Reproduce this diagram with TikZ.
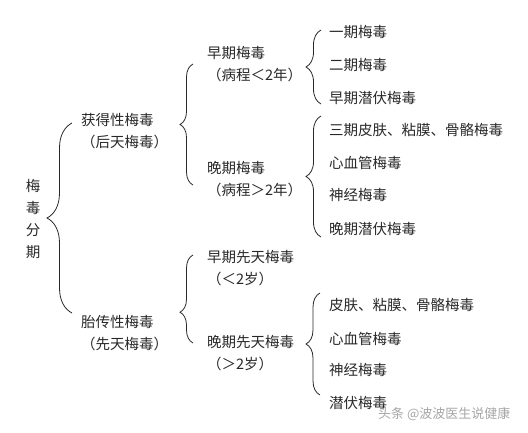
\documentclass[tikz,border=0pt]{standalone}
\usepackage{fontspec}
\setmainfont{Noto Sans CJK SC}
\usepackage{tikz}
\usetikzlibrary{decorations.pathreplacing, calc}
\definecolor{inkgray}{RGB}{40,40,40}
\tikzset{
  root/.style={
    inner sep=0pt, align=center, text=inkgray,
    font=\fontsize{14.5}{22}\selectfont
  },
  term/.style={
    anchor=west, inner sep=0pt, align=left, text=inkgray,
    font=\fontsize{14.5}{22}\selectfont
  },
  lbrace/.style={
    decorate, decoration={brace, amplitude=#1},
    draw=inkgray, line width=0.8pt
  },
  lbrace/.default=14,
  credit/.style={
    anchor=west, inner sep=0pt, text=gray!70,
    font=\fontsize{13}{13}\selectfont\itshape
  },
}

\begin{document}
\begin{tikzpicture}[x=1pt, y=-1pt]
  \useasboundingbox (0,0) rectangle (528,432);

  % root
  \node (root) [root] at (33,219) {梅\\毒\\分\\期};

  % first level
  \node (acq)  [term] at (81,131) {获得性梅毒\\（后天梅毒）};
  \node (cong) [term] at (81,333) {胎传性梅毒\\（先天梅毒）};

  % second level
  \node (eacq)  [term] at (207,64.5)  {早期梅毒\\（病程＜2年）};
  \node (lacq)  [term] at (207,179)   {晚期梅毒\\（病程＞2年）};
  \node (econg) [term] at (207,268.5) {早期先天梅毒\\（＜2岁）};
  \node (lcong) [term] at (207,353.5) {晚期先天梅毒\\（＞2岁）};

  % third level
  \node (i1)  [term] at (329,32)  {一期梅毒};
  \node (i2)  [term] at (329,65)  {二期梅毒};
  \node (i3)  [term] at (329,98)  {早期潜伏梅毒};
  \node (i4)  [term] at (329,130) {三期皮肤、粘膜、骨骼梅毒};
  \node (i5)  [term] at (329,163) {心血管梅毒};
  \node (i6)  [term] at (329,195) {神经梅毒};
  \node (i7)  [term] at (329,229) {晚期潜伏梅毒};
  \node (i8)  [term] at (329,305) {皮肤、粘膜、骨骼梅毒};
  \node (i9)  [term] at (329,339) {心血管梅毒};
  \node (i10) [term] at (329,370) {神经梅毒};
  \node (i11) [term] at (329,403) {潜伏梅毒};

  % braces
  \draw [lbrace=25] ($(cong.west)+(-9,-20)$) -- ($(acq.west)+(-9,-8)$);
  \draw [lbrace=13] ($(lacq.west)+(-14,6)$) -- ($(eacq.west)+(-14,-0.5)$);
  \draw [lbrace=13, decoration={aspect=0.35}]
    ($(lcong.west)+(-14,-10.5)$) -- ($(econg.west)+(-14,-13.5)$);
  \draw [lbrace=15] ($(i3.west)+(-8,6)$) -- ($(i1.west)+(-8,-2)$);
  \draw [lbrace=15] ($(i7.west)+(-8,8)$) -- ($(i4.west)+(-8,-14)$);
  \draw [lbrace=14] ($(i11.west)+(-9,-8)$) -- ($(i8.west)+(-9,-12)$);

  \node (credit) [credit] at (378,414) {头条 @波波医生说健康};
\end{tikzpicture}
\end{document}
